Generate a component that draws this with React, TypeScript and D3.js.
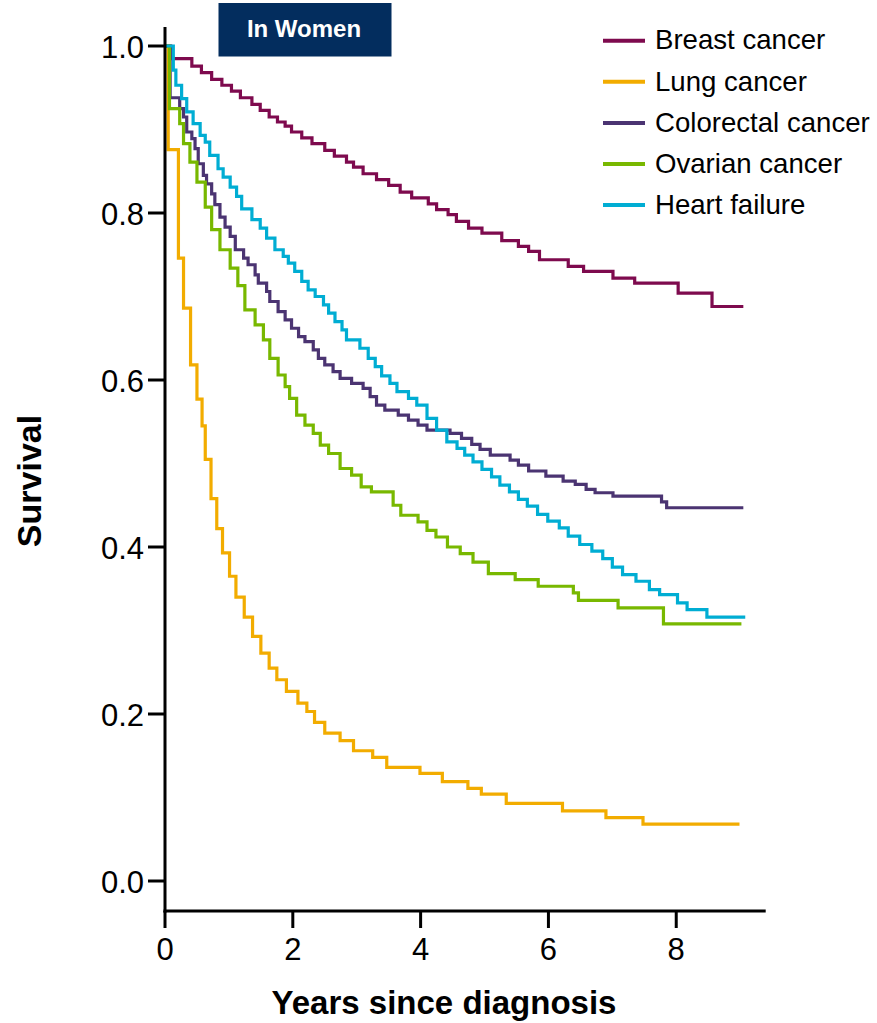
import React from 'react';
import * as d3 from 'd3';

// survival curves, women: step times (years) and survival after each step
const breastT = [0, 0.09, 0.42, 0.57, 0.73, 0.89, 1.04, 1.18, 1.36, 1.49, 1.63, 1.76, 1.88, 1.98, 2.14, 2.30, 2.50, 2.65, 2.84, 2.95, 3.10, 3.31, 3.50, 3.68, 3.86, 4.12, 4.25, 4.43, 4.56, 4.75, 4.96, 5.27, 5.53, 5.69, 5.86, 6.31, 6.55, 7.01, 7.35, 8.03, 8.56, 9.05];
const breastS = [1.0, 0.985, 0.976, 0.968, 0.960, 0.953, 0.946, 0.938, 0.930, 0.923, 0.915, 0.909, 0.904, 0.897, 0.890, 0.883, 0.875, 0.868, 0.861, 0.855, 0.847, 0.840, 0.833, 0.825, 0.818, 0.811, 0.804, 0.798, 0.790, 0.782, 0.776, 0.767, 0.760, 0.754, 0.744, 0.736, 0.730, 0.722, 0.716, 0.704, 0.688, 0.688];

const lungT = [0, 0.05, 0.21, 0.29, 0.40, 0.50, 0.58, 0.63, 0.72, 0.81, 0.90, 1.01, 1.11, 1.24, 1.37, 1.50, 1.63, 1.75, 1.90, 2.08, 2.22, 2.34, 2.50, 2.74, 2.95, 3.25, 3.47, 3.99, 4.34, 4.74, 4.95, 5.34, 6.22, 6.90, 7.48, 8.99];
const lungS = [1.0, 0.876, 0.746, 0.686, 0.618, 0.577, 0.545, 0.505, 0.458, 0.422, 0.393, 0.365, 0.340, 0.316, 0.293, 0.273, 0.255, 0.241, 0.227, 0.213, 0.203, 0.190, 0.177, 0.168, 0.156, 0.148, 0.136, 0.129, 0.119, 0.111, 0.104, 0.093, 0.084, 0.076, 0.068, 0.068];

const colorectalT = [0, 0.08, 0.23, 0.29, 0.34, 0.42, 0.47, 0.52, 0.60, 0.65, 0.73, 0.78, 0.86, 0.94, 1.02, 1.10, 1.23, 1.30, 1.41, 1.46, 1.59, 1.64, 1.77, 1.88, 1.98, 2.09, 2.19, 2.32, 2.40, 2.50, 2.63, 2.74, 2.92, 3.10, 3.21, 3.31, 3.44, 3.65, 3.81, 3.96, 4.10, 4.46, 4.64, 4.80, 4.93, 5.09, 5.40, 5.53, 5.69, 5.96, 6.23, 6.42, 6.59, 6.73, 7.01, 7.77, 7.85, 9.05];
const colorectalS = [1.0, 0.938, 0.925, 0.915, 0.897, 0.889, 0.877, 0.859, 0.845, 0.835, 0.823, 0.810, 0.795, 0.783, 0.772, 0.756, 0.746, 0.738, 0.726, 0.716, 0.706, 0.694, 0.682, 0.672, 0.662, 0.652, 0.646, 0.636, 0.626, 0.618, 0.610, 0.602, 0.596, 0.590, 0.580, 0.570, 0.564, 0.558, 0.552, 0.546, 0.540, 0.536, 0.530, 0.523, 0.517, 0.510, 0.504, 0.498, 0.491, 0.485, 0.479, 0.475, 0.469, 0.465, 0.461, 0.454, 0.447, 0.447];

const ovarianT = [0, 0.07, 0.23, 0.29, 0.39, 0.50, 0.63, 0.73, 0.86, 1.02, 1.14, 1.25, 1.41, 1.54, 1.64, 1.77, 1.88, 1.95, 2.06, 2.19, 2.32, 2.43, 2.56, 2.74, 2.92, 3.07, 3.23, 3.57, 3.69, 3.96, 4.10, 4.24, 4.42, 4.62, 4.82, 5.06, 5.48, 5.84, 6.39, 6.47, 7.09, 7.80, 9.02];
const ovarianS = [1.0, 0.925, 0.907, 0.883, 0.861, 0.837, 0.807, 0.780, 0.756, 0.734, 0.713, 0.684, 0.666, 0.648, 0.626, 0.606, 0.592, 0.578, 0.558, 0.546, 0.536, 0.522, 0.512, 0.494, 0.486, 0.472, 0.466, 0.450, 0.438, 0.430, 0.420, 0.412, 0.400, 0.392, 0.382, 0.368, 0.361, 0.353, 0.345, 0.336, 0.327, 0.308, 0.308];

const heartT = [0, 0.13, 0.17, 0.26, 0.34, 0.44, 0.55, 0.63, 0.70, 0.83, 0.91, 1.02, 1.12, 1.20, 1.36, 1.49, 1.59, 1.72, 1.85, 1.93, 2.03, 2.14, 2.24, 2.35, 2.48, 2.56, 2.66, 2.77, 2.84, 3.05, 3.18, 3.29, 3.39, 3.52, 3.63, 3.81, 3.94, 4.10, 4.25, 4.41, 4.57, 4.69, 4.82, 4.96, 5.11, 5.24, 5.39, 5.53, 5.67, 5.83, 5.99, 6.17, 6.31, 6.49, 6.68, 6.85, 7.00, 7.16, 7.37, 7.58, 7.74, 8.02, 8.17, 8.48, 9.08];
const heartS = [1.0, 0.971, 0.953, 0.937, 0.921, 0.907, 0.893, 0.885, 0.869, 0.853, 0.843, 0.831, 0.820, 0.805, 0.792, 0.782, 0.770, 0.756, 0.748, 0.740, 0.730, 0.718, 0.708, 0.700, 0.690, 0.680, 0.670, 0.660, 0.648, 0.638, 0.626, 0.616, 0.605, 0.596, 0.586, 0.578, 0.570, 0.554, 0.540, 0.526, 0.518, 0.510, 0.502, 0.493, 0.484, 0.474, 0.466, 0.457, 0.449, 0.439, 0.431, 0.423, 0.413, 0.403, 0.395, 0.386, 0.376, 0.367, 0.359, 0.349, 0.343, 0.333, 0.325, 0.316, 0.316];

const seriesNames = ['Breast cancer', 'Lung cancer', 'Colorectal cancer', 'Ovarian cancer', 'Heart failure'];
const seriesColors = ['#7e0a4e', '#f2ac00', '#4b3472', '#78b800', '#00add3'];
const seriesTimes = [breastT, lungT, colorectalT, ovarianT, heartT];
const seriesSurv = [breastS, lungS, colorectalS, ovarianS, heartS];

const xTicks = [0, 2, 4, 6, 8];
const yTicks = [0, 0.2, 0.4, 0.6, 0.8, 1.0];

const W = 877;
const H = 1023;
const FONT = "'Liberation Sans', Arial, Helvetica, sans-serif";

export default function App() {
  const x = d3.scaleLinear().domain([0, 9.4]).range([165, 765.7]);
  const y = d3.scaleLinear().domain([0, 1]).range([881, 46]);

  const line = d3.line<[number, number]>()
    .x(d => x(d[0]))
    .y(d => y(d[1]))
    .curve(d3.curveStepAfter);

  const axisY = 911;
  const axisX = x(0);

  return (
    <svg width={W} height={H} style={{ position: 'absolute', left: 0, top: 0, background: '#fff' }}
      fontFamily={FONT}>
      {/* curves */}
      {seriesNames.map((name, i) => {
        const pts = seriesTimes[i].map((t, j) => [t, seriesSurv[i][j]] as [number, number]);
        return (
          <path key={name} d={line(pts) || ''} fill="none" stroke={seriesColors[i]}
            strokeWidth={3.2} strokeLinejoin="miter" />
        );
      })}

      {/* y axis */}
      <line x1={axisX} x2={axisX} y1={27} y2={axisY + 1.5} stroke="#000" strokeWidth={3} />
      {yTicks.map(t => (
        <g key={t}>
          <line x1={axisX - 17} x2={axisX} y1={y(t)} y2={y(t)} stroke="#000" strokeWidth={3} />
          <text x={144} y={y(t) + 11.5} textAnchor="end" fontSize={31}>{t.toFixed(1)}</text>
        </g>
      ))}

      {/* x axis */}
      <line x1={axisX - 1.5} x2={x(9.4)} y1={axisY} y2={axisY} stroke="#000" strokeWidth={3} />
      {xTicks.map(t => (
        <g key={t}>
          <line x1={x(t)} x2={x(t)} y1={axisY} y2={axisY + 17} stroke="#000" strokeWidth={3} />
          <text x={x(t)} y={960} textAnchor="middle" fontSize={31}>{t}</text>
        </g>
      ))}

      {/* axis titles */}
      <text x={444} y={1014} textAnchor="middle" fontSize={33} fontWeight="bold">Years since diagnosis</text>
      <text transform={`translate(41,481) rotate(-90)`} textAnchor="middle" fontSize={34} fontWeight="bold">Survival</text>

      {/* header box */}
      <rect x={218.5} y={3} width={173} height={53.5} fill="#032d5e" />
      <text x={304} y={37} textAnchor="middle" fontSize={24} fontWeight="bold" fill="#fff">In Women</text>

      {/* legend */}
      {seriesNames.map((name, i) => {
        const ly = 40.7 + i * 41.1;
        return (
          <g key={name}>
            <line x1={603} x2={645} y1={ly} y2={ly} stroke={seriesColors[i]} strokeWidth={4} />
            <text x={655} y={ly + 8.7} fontSize={27.6}>{name}</text>
          </g>
        );
      })}
    </svg>
  );
}
